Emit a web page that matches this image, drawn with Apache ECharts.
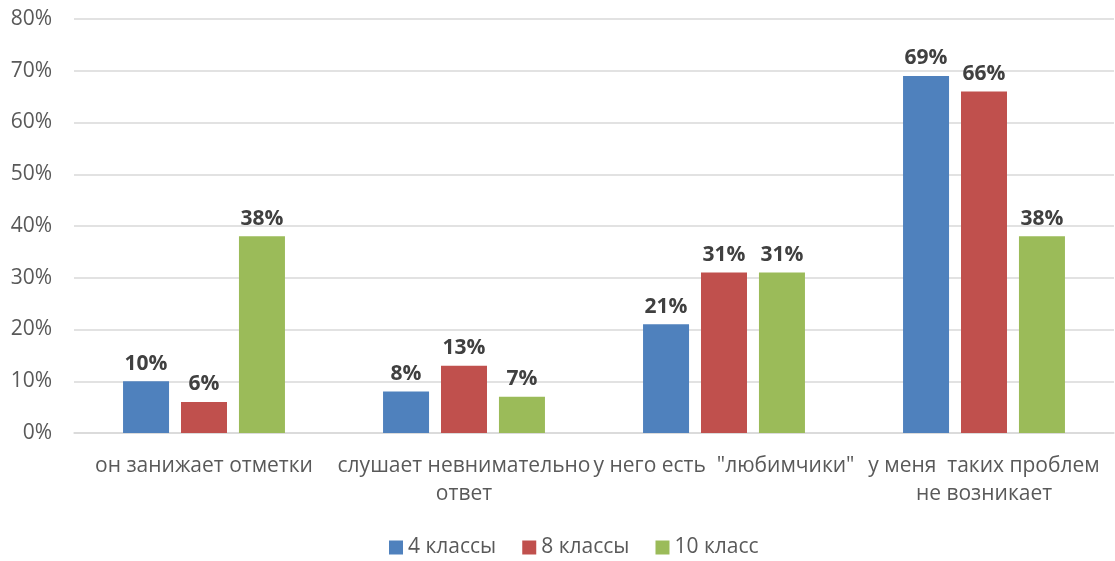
<!DOCTYPE html>
<html><head><meta charset="utf-8">
<script src="https://cdn.jsdelivr.net/npm/echarts@6/dist/echarts.min.js"></script>
<style>html,body{margin:0;padding:0;background:#fff}#c{width:1115px;height:561px}</style>
</head><body><div id="c"></div>
<script>
const categories = ['он занижает отметки', 'слушает невнимательно\nответ', 'у него есть  "любимчики"', 'у меня  таких проблем\nне возникает'];
const seriesNames = ['4 классы', '8 классы', '10 класс'];
const s4 = [10, 8, 21, 69];
const s8 = [6, 13, 31, 66];
const s10 = [38, 7, 31, 38];
const colors = ['#4F81BD', '#C0504D', '#9BBB59'];
const font = '"Open Sans", "Liberation Sans", sans-serif';
const chart = echarts.init(document.getElementById('c'));
const mk = (name, data, i) => ({
  name, type: 'bar', data, barWidth: 46, barGap: '26%',
  itemStyle: { color: colors[i] },
  label: { show: true, position: 'top', distance: 7, formatter: '{c}%', fontFamily: font, fontSize: 21, fontWeight: 'bold', color: '#404040' }
});
chart.setOption({
  animation: false,
  textStyle: { fontFamily: font },
  grid: { left: 74, right: 1, top: 19, bottom: 128 },
  legend: { bottom: -2, left: 384, itemWidth: 14, itemHeight: 14, itemGap: 26, icon: 'rect',
    textStyle: { fontFamily: font, fontSize: 21, color: '#595959' }, data: seriesNames },
  xAxis: { type: 'category', data: categories,
    axisLine: { lineStyle: { color: '#d9d9d9', width: 1.5 } }, axisTick: { show: false },
    axisLabel: { interval: 0, fontFamily: font, fontSize: 21, color: '#595959', margin: 19, lineHeight: 28 } },
  yAxis: { type: 'value', min: 0, max: 80, interval: 10,
    axisLabel: { formatter: '{value}%', fontFamily: font, fontSize: 21, color: '#595959', margin: 22 },
    splitLine: { lineStyle: { color: '#d9d9d9', width: 1.5 } }, axisLine: { show: false }, axisTick: { show: false } },
  series: [mk(seriesNames[0], s4, 0), mk(seriesNames[1], s8, 1), mk(seriesNames[2], s10, 2)]
});
</script></body></html>
